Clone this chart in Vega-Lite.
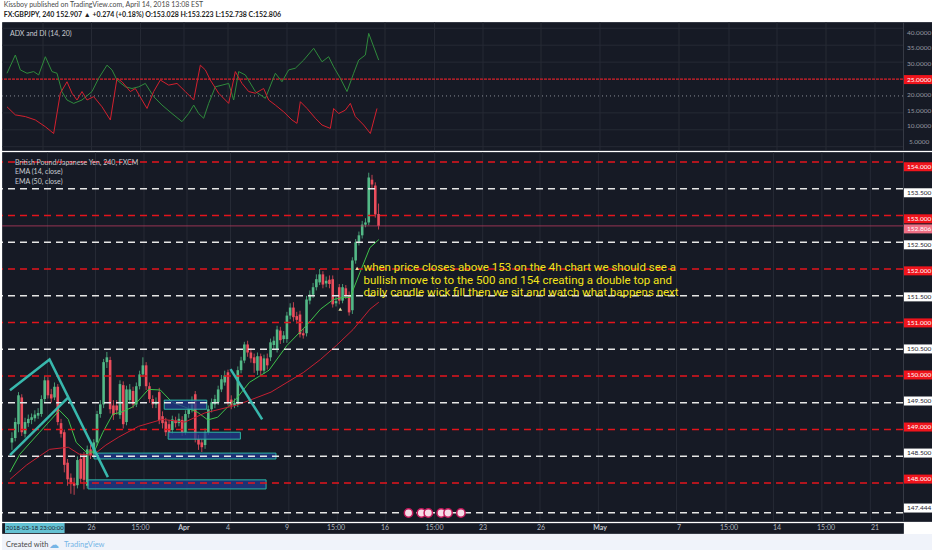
{
  "$schema": "https://vega.github.io/schema/vega-lite/v6.json",
  "background": "#ffffff",
  "padding": {"left": 0, "right": 0, "top": 1, "bottom": 0},
  "title": {
    "text": "Kissboy published on TradingView.com, April 14, 2018 13:08 EST",
    "subtitle": "FX:GBPJPY, 240  152.907 ▲ +0.274 (+0.18%)  O:153.028  H:153.223  L:152.738  C:152.806",
    "anchor": "start",
    "dx": 3,
    "font": "Lato",
    "fontSize": 7,
    "fontWeight": "normal",
    "color": "#4a4a4a",
    "subtitleFont": "Lato",
    "subtitleFontSize": 7,
    "subtitleFontWeight": "bold",
    "subtitleColor": "#222222",
    "subtitlePadding": 3,
    "offset": 3
  },
  "config": {
    "view": {"fill": "#161a25", "stroke": "#363a45"},
    "concat": {"spacing": 0}
  },
  "datasets": {
    "candles": [
      {"i":0,"o":148.76,"h":148.95,"l":148.62,"c":148.84},
      {"i":1,"o":148.84,"h":149.22,"l":148.78,"c":149.14},
      {"i":2,"o":149.10,"h":149.70,"l":148.95,"c":149.64},
      {"i":3,"o":149.60,"h":149.66,"l":148.88,"c":148.95},
      {"i":4,"o":148.92,"h":149.22,"l":148.85,"c":149.14},
      {"i":5,"o":149.12,"h":149.28,"l":149.05,"c":149.20},
      {"i":6,"o":149.18,"h":149.30,"l":149.10,"c":149.23},
      {"i":7,"o":149.21,"h":149.36,"l":149.15,"c":149.28},
      {"i":8,"o":149.26,"h":149.40,"l":149.20,"c":149.31},
      {"i":9,"o":149.29,"h":149.64,"l":149.24,"c":149.57},
      {"i":10,"o":149.57,"h":150.00,"l":149.50,"c":149.92},
      {"i":11,"o":149.92,"h":149.98,"l":149.58,"c":149.64},
      {"i":12,"o":149.66,"h":149.76,"l":149.50,"c":149.58},
      {"i":13,"o":149.60,"h":149.88,"l":149.55,"c":149.80},
      {"i":14,"o":149.80,"h":149.85,"l":149.08,"c":149.14},
      {"i":15,"o":149.12,"h":149.20,"l":148.85,"c":148.92},
      {"i":16,"o":148.95,"h":149.00,"l":148.20,"c":148.34},
      {"i":17,"o":148.38,"h":148.45,"l":147.95,"c":148.07},
      {"i":18,"o":148.10,"h":148.18,"l":147.80,"c":147.98},
      {"i":19,"o":148.00,"h":148.10,"l":147.78,"c":147.95},
      {"i":20,"o":147.96,"h":148.50,"l":147.90,"c":148.43},
      {"i":21,"o":148.45,"h":148.55,"l":148.00,"c":148.08},
      {"i":22,"o":148.50,"h":148.58,"l":147.88,"c":148.06},
      {"i":23,"o":147.95,"h":148.70,"l":147.90,"c":148.63},
      {"i":24,"o":148.63,"h":148.72,"l":148.45,"c":148.52},
      {"i":25,"o":148.55,"h":148.82,"l":148.48,"c":148.76},
      {"i":26,"o":148.76,"h":149.35,"l":148.70,"c":149.29},
      {"i":27,"o":149.29,"h":149.55,"l":149.22,"c":149.47},
      {"i":28,"o":149.47,"h":150.32,"l":149.40,"c":150.26},
      {"i":29,"o":150.26,"h":150.45,"l":150.15,"c":150.35},
      {"i":30,"o":150.30,"h":150.36,"l":149.30,"c":149.38},
      {"i":31,"o":149.45,"h":149.55,"l":149.18,"c":149.27},
      {"i":32,"o":149.45,"h":149.55,"l":149.28,"c":149.36},
      {"i":33,"o":149.27,"h":149.92,"l":149.20,"c":149.85},
      {"i":34,"o":149.83,"h":149.90,"l":149.02,"c":149.10},
      {"i":35,"o":149.14,"h":149.82,"l":149.08,"c":149.75},
      {"i":36,"o":149.55,"h":149.85,"l":149.48,"c":149.75},
      {"i":37,"o":149.72,"h":149.80,"l":149.40,"c":149.47},
      {"i":38,"o":149.47,"h":149.88,"l":149.42,"c":149.81},
      {"i":39,"o":149.81,"h":150.10,"l":149.75,"c":150.03},
      {"i":40,"o":150.03,"h":150.35,"l":149.98,"c":150.20},
      {"i":41,"o":150.20,"h":150.26,"l":149.74,"c":149.81},
      {"i":42,"o":149.81,"h":149.88,"l":149.50,"c":149.57},
      {"i":43,"o":149.57,"h":149.64,"l":149.40,"c":149.47},
      {"i":44,"o":149.47,"h":149.60,"l":149.40,"c":149.52},
      {"i":45,"o":149.70,"h":149.78,"l":149.10,"c":149.18},
      {"i":46,"o":149.25,"h":149.34,"l":149.02,"c":149.12},
      {"i":47,"o":149.15,"h":149.22,"l":148.88,"c":148.95},
      {"i":48,"o":149.10,"h":149.18,"l":148.86,"c":148.95},
      {"i":49,"o":148.99,"h":149.26,"l":148.92,"c":149.19},
      {"i":50,"o":149.17,"h":149.24,"l":149.04,"c":149.12},
      {"i":51,"o":149.12,"h":149.30,"l":149.06,"c":149.20},
      {"i":52,"o":149.18,"h":149.25,"l":148.88,"c":148.95},
      {"i":53,"o":148.95,"h":149.36,"l":148.90,"c":149.29},
      {"i":54,"o":149.29,"h":149.45,"l":149.22,"c":149.38},
      {"i":55,"o":149.38,"h":149.62,"l":149.32,"c":149.47},
      {"i":56,"o":149.66,"h":149.72,"l":148.76,"c":148.82},
      {"i":57,"o":148.82,"h":148.90,"l":148.62,"c":148.72},
      {"i":58,"o":148.76,"h":148.82,"l":148.58,"c":148.67},
      {"i":59,"o":148.71,"h":149.02,"l":148.64,"c":148.95},
      {"i":60,"o":148.95,"h":149.45,"l":148.90,"c":149.38},
      {"i":61,"o":149.38,"h":149.58,"l":149.32,"c":149.51},
      {"i":62,"o":149.47,"h":149.65,"l":149.40,"c":149.57},
      {"i":63,"o":149.51,"h":149.82,"l":149.46,"c":149.75},
      {"i":64,"o":149.75,"h":150.02,"l":149.70,"c":149.94},
      {"i":65,"o":149.88,"h":150.10,"l":149.82,"c":150.01},
      {"i":66,"o":150.07,"h":150.12,"l":149.45,"c":149.51},
      {"i":67,"o":149.56,"h":149.64,"l":149.38,"c":149.45},
      {"i":68,"o":149.45,"h":149.58,"l":149.40,"c":149.50},
      {"i":69,"o":149.47,"h":150.18,"l":149.42,"c":150.11},
      {"i":70,"o":150.11,"h":150.36,"l":150.05,"c":150.29},
      {"i":71,"o":150.29,"h":150.64,"l":150.24,"c":150.59},
      {"i":72,"o":150.59,"h":150.66,"l":150.36,"c":150.44},
      {"i":73,"o":150.44,"h":150.52,"l":150.25,"c":150.33},
      {"i":74,"o":150.35,"h":150.42,"l":150.06,"c":150.24},
      {"i":75,"o":150.10,"h":150.44,"l":150.02,"c":150.37},
      {"i":76,"o":150.37,"h":150.42,"l":150.00,"c":150.10},
      {"i":77,"o":150.10,"h":150.40,"l":150.04,"c":150.33},
      {"i":78,"o":150.33,"h":150.42,"l":150.12,"c":150.20},
      {"i":79,"o":150.35,"h":150.70,"l":150.28,"c":150.63},
      {"i":80,"o":150.58,"h":150.74,"l":150.50,"c":150.66},
      {"i":81,"o":150.50,"h":150.94,"l":150.44,"c":150.87},
      {"i":82,"o":150.85,"h":150.92,"l":150.60,"c":150.67},
      {"i":83,"o":150.69,"h":150.84,"l":150.62,"c":150.76},
      {"i":84,"o":150.69,"h":151.20,"l":150.62,"c":151.13},
      {"i":85,"o":151.13,"h":151.36,"l":151.06,"c":151.28},
      {"i":86,"o":151.28,"h":151.38,"l":151.02,"c":151.10},
      {"i":87,"o":151.12,"h":151.20,"l":150.98,"c":151.05},
      {"i":88,"o":151.15,"h":151.22,"l":150.72,"c":150.78},
      {"i":89,"o":150.80,"h":150.88,"l":150.70,"c":150.76},
      {"i":90,"o":150.80,"h":151.50,"l":150.74,"c":151.43},
      {"i":91,"o":151.41,"h":151.60,"l":151.34,"c":151.52},
      {"i":92,"o":151.52,"h":151.74,"l":151.46,"c":151.66},
      {"i":93,"o":151.66,"h":151.90,"l":151.60,"c":151.81},
      {"i":94,"o":151.75,"h":152.00,"l":151.70,"c":151.90},
      {"i":95,"o":151.90,"h":151.96,"l":151.64,"c":151.71},
      {"i":96,"o":151.73,"h":151.86,"l":151.66,"c":151.78},
      {"i":97,"o":151.80,"h":151.88,"l":151.64,"c":151.72},
      {"i":98,"o":151.81,"h":151.88,"l":151.28,"c":151.34},
      {"i":99,"o":151.36,"h":151.48,"l":151.30,"c":151.40},
      {"i":100,"o":151.66,"h":151.72,"l":151.34,"c":151.41},
      {"i":101,"o":151.41,"h":151.72,"l":151.36,"c":151.66},
      {"i":102,"o":151.64,"h":151.70,"l":151.44,"c":151.50},
      {"i":103,"o":151.51,"h":151.58,"l":151.13,"c":151.19},
      {"i":104,"o":151.23,"h":152.22,"l":151.16,"c":152.16},
      {"i":105,"o":152.16,"h":152.56,"l":152.10,"c":152.50},
      {"i":106,"o":152.50,"h":152.70,"l":152.44,"c":152.63},
      {"i":107,"o":152.63,"h":152.90,"l":152.57,"c":152.83},
      {"i":108,"o":152.83,"h":152.95,"l":152.78,"c":152.87},
      {"i":109,"o":152.87,"h":153.80,"l":152.82,"c":153.71},
      {"i":110,"o":153.67,"h":153.76,"l":153.50,"c":153.58},
      {"i":111,"o":153.56,"h":153.62,"l":152.96,"c":153.02},
      {"i":112,"o":153.028,"h":153.223,"l":152.738,"c":152.806}
    ],
    "ema": [
      {"s":"14","i":-0.6,"p":148.205},{"s":"14","i":2.42,"p":148.54},{"s":"14","i":8.46,"p":148.95},
      {"s":"14","i":14.5,"p":149.36},{"s":"14","i":17.22,"p":149.19},{"s":"14","i":19.64,"p":148.76},
      {"s":"14","i":22.66,"p":148.58},{"s":"14","i":25.08,"p":148.58},{"s":"14","i":27.79,"p":148.95},
      {"s":"14","i":30.82,"p":149.29},{"s":"14","i":33.23,"p":149.32},{"s":"14","i":36.86,"p":149.42},
      {"s":"14","i":41.69,"p":149.75},{"s":"14","i":45.32,"p":149.74},{"s":"14","i":48.94,"p":149.51},
      {"s":"14","i":52.87,"p":149.42},{"s":"14","i":56.8,"p":149.32},{"s":"14","i":59.82,"p":149.18},
      {"s":"14","i":62.84,"p":149.23},{"s":"14","i":65.86,"p":149.42},{"s":"14","i":68.88,"p":149.6},
      {"s":"14","i":72.51,"p":149.88},{"s":"14","i":78.55,"p":150.11},{"s":"14","i":83.99,"p":150.57},
      {"s":"14","i":90.03,"p":150.95},{"s":"14","i":94.26,"p":151.25},{"s":"14","i":98.19,"p":151.43},
      {"s":"14","i":101.21,"p":151.47},{"s":"14","i":103.32,"p":151.47},{"s":"14","i":106.34,"p":151.94},
      {"s":"14","i":109.37,"p":152.4},{"s":"14","i":112.08,"p":152.55},
      {"s":"50","i":-0.6,"p":148.07},{"s":"50","i":4.53,"p":148.34},{"s":"50","i":11.48,"p":148.63},
      {"s":"50","i":17.22,"p":148.67},{"s":"50","i":20.54,"p":148.54},{"s":"50","i":24.77,"p":148.52},
      {"s":"50","i":28.7,"p":148.71},{"s":"50","i":32.63,"p":148.86},{"s":"50","i":38.67,"p":149.06},
      {"s":"50","i":45.92,"p":149.19},{"s":"50","i":52.87,"p":149.14},{"s":"50","i":58.91,"p":149.31},
      {"s":"50","i":68.88,"p":149.46},{"s":"50","i":79.15,"p":149.7},{"s":"50","i":89.12,"p":150.07},
      {"s":"50","i":94.26,"p":150.31},{"s":"50","i":99.09,"p":150.57},{"s":"50","i":104.23,"p":150.87},
      {"s":"50","i":109.37,"p":151.25},{"s":"50","i":112.08,"p":151.38}
    ],
    "adx": [
      {"s":"+DI","i":0,"v":26.7},{"s":"+DI","i":2.52,"v":32.1},{"s":"+DI","i":4.03,"v":27.7},{"s":"+DI","i":6.04,"v":26.7},
      {"s":"+DI","i":8.06,"v":27.2},{"s":"+DI","i":9.57,"v":26.2},{"s":"+DI","i":11.58,"v":31.6},{"s":"+DI","i":13.6,"v":27.2},
      {"s":"+DI","i":15.11,"v":26.7},{"s":"+DI","i":16.62,"v":21.2},{"s":"+DI","i":18.13,"v":18.8},{"s":"+DI","i":20.14,"v":17.8},
      {"s":"+DI","i":22.66,"v":18.8},{"s":"+DI","i":25.68,"v":21.3},{"s":"+DI","i":27.69,"v":25.2},{"s":"+DI","i":30.21,"v":29.1},
      {"s":"+DI","i":31.72,"v":27.7},{"s":"+DI","i":33.23,"v":24.7},{"s":"+DI","i":35.75,"v":22.7},{"s":"+DI","i":37.76,"v":22.2},
      {"s":"+DI","i":39.78,"v":22.7},{"s":"+DI","i":41.79,"v":23.7},{"s":"+DI","i":44.31,"v":19.8},{"s":"+DI","i":46.83,"v":17.3},
      {"s":"+DI","i":49.85,"v":14.8},{"s":"+DI","i":52.87,"v":12.4},{"s":"+DI","i":54.88,"v":14.8},{"s":"+DI","i":56.4,"v":17.3},
      {"s":"+DI","i":57.91,"v":14.8},{"s":"+DI","i":59.42,"v":13.4},{"s":"+DI","i":60.93,"v":17.8},{"s":"+DI","i":62.94,"v":22.7},
      {"s":"+DI","i":64.96,"v":23.2},{"s":"+DI","i":66.97,"v":23.7},{"s":"+DI","i":68.48,"v":18.8},{"s":"+DI","i":69.99,"v":27.2},
      {"s":"+DI","i":72.01,"v":26.2},{"s":"+DI","i":75.03,"v":21.3},{"s":"+DI","i":78.05,"v":19.3},{"s":"+DI","i":81.07,"v":26.7},
      {"s":"+DI","i":83.08,"v":24.2},{"s":"+DI","i":85.1,"v":27.7},{"s":"+DI","i":87.11,"v":28.2},{"s":"+DI","i":89.63,"v":30.6},
      {"s":"+DI","i":92.65,"v":34.1},{"s":"+DI","i":95.17,"v":30.1},{"s":"+DI","i":97.18,"v":31.6},{"s":"+DI","i":98.69,"v":28.6},
      {"s":"+DI","i":100.71,"v":25.2},{"s":"+DI","i":102.72,"v":21.3},{"s":"+DI","i":104.73,"v":26.7},{"s":"+DI","i":106.25,"v":30.6},
      {"s":"+DI","i":108.26,"v":32.1},{"s":"+DI","i":109.27,"v":38.5},{"s":"+DI","i":112.29,"v":30.6},
      {"s":"-DI","i":0,"v":16.8},{"s":"-DI","i":2.52,"v":14.4},{"s":"-DI","i":5.54,"v":13.9},{"s":"-DI","i":8.56,"v":12.9},
      {"s":"-DI","i":11.58,"v":10.9},{"s":"-DI","i":14.1,"v":8.9},{"s":"-DI","i":16.11,"v":20.8},{"s":"-DI","i":18.13,"v":24.2},
      {"s":"-DI","i":19.64,"v":20.8},{"s":"-DI","i":21.15,"v":18.8},{"s":"-DI","i":22.66,"v":21.3},{"s":"-DI","i":24.17,"v":18.8},
      {"s":"-DI","i":26.18,"v":19.8},{"s":"-DI","i":28.7,"v":16.8},{"s":"-DI","i":31.22,"v":12.9},{"s":"-DI","i":33.23,"v":25.2},
      {"s":"-DI","i":34.74,"v":24.2},{"s":"-DI","i":37.26,"v":21.3},{"s":"-DI","i":38.77,"v":22.2},{"s":"-DI","i":40.79,"v":18.8},
      {"s":"-DI","i":42.3,"v":16.3},{"s":"-DI","i":44.31,"v":21.3},{"s":"-DI","i":46.32,"v":24.7},{"s":"-DI","i":48.84,"v":23.2},
      {"s":"-DI","i":51.36,"v":23.7},{"s":"-DI","i":53.88,"v":21.3},{"s":"-DI","i":56.4,"v":18.8},{"s":"-DI","i":58.41,"v":29.1},
      {"s":"-DI","i":59.92,"v":27.7},{"s":"-DI","i":61.43,"v":24.7},{"s":"-DI","i":63.95,"v":20.8},{"s":"-DI","i":66.97,"v":17.8},
      {"s":"-DI","i":68.98,"v":27.2},{"s":"-DI","i":71.0,"v":23.7},{"s":"-DI","i":73.01,"v":21.3},{"s":"-DI","i":75.03,"v":20.8},
      {"s":"-DI","i":77.54,"v":22.2},{"s":"-DI","i":79.05,"v":18.8},{"s":"-DI","i":81.07,"v":17.3},{"s":"-DI","i":83.59,"v":15.3},
      {"s":"-DI","i":86.1,"v":12.9},{"s":"-DI","i":87.61,"v":11.9},{"s":"-DI","i":88.62,"v":18.3},{"s":"-DI","i":90.64,"v":16.3},
      {"s":"-DI","i":93.16,"v":13.4},{"s":"-DI","i":95.17,"v":11.4},{"s":"-DI","i":97.69,"v":10.4},{"s":"-DI","i":98.69,"v":16.3},
      {"s":"-DI","i":100.2,"v":14.8},{"s":"-DI","i":102.22,"v":15.8},{"s":"-DI","i":103.73,"v":17.8},{"s":"-DI","i":105.24,"v":13.9},
      {"s":"-DI","i":107.76,"v":11.4},{"s":"-DI","i":109.77,"v":8.9},{"s":"-DI","i":111.78,"v":16.3}
    ],
    "levels": [
      {"p":154,"k":"r"},{"p":153.5,"k":"w"},{"p":153,"k":"r"},{"p":152.5,"k":"w"},{"p":152,"k":"r"},
      {"p":151.5,"k":"w"},{"p":151,"k":"r"},{"p":150.5,"k":"w"},{"p":150,"k":"r"},{"p":149.5,"k":"w"},
      {"p":149,"k":"r"},{"p":148.5,"k":"w"},{"p":148,"k":"r"},{"p":147.444,"k":"w"}
    ],
    "plabels": [
      {"p":154,"t":"154.000","k":"r"},{"p":153.5,"t":"153.500","k":"w"},{"p":153,"t":"153.000","k":"r"},
      {"p":152.806,"t":"152.806","k":"c"},{"p":152.5,"t":"152.500","k":"w"},{"p":152,"t":"152.000","k":"r"},
      {"p":151.5,"t":"151.500","k":"w"},{"p":151,"t":"151.000","k":"r"},{"p":150.5,"t":"150.500","k":"w"},
      {"p":150,"t":"150.000","k":"r"},{"p":149.5,"t":"149.500","k":"w"},{"p":149,"t":"149.000","k":"r"},
      {"p":148.5,"t":"148.500","k":"w"},{"p":148,"t":"148.000","k":"r"},{"p":147.444,"t":"147.444","k":"w"}
    ],
    "alabels": [
      {"v":40,"t":"40.0000","k":"g"},{"v":35,"t":"35.0000","k":"g"},{"v":30,"t":"30.0000","k":"g"},
      {"v":25,"t":"25.0000","k":"r"},{"v":20,"t":"20.0000","k":"g"},{"v":15,"t":"15.0000","k":"g"},
      {"v":10,"t":"10.0000","k":"g"},{"v":5,"t":"5.0000","k":"g"}
    ],
    "grid": [
      {"i":10.88,"lab":""},{"i":25.53,"lab":"26"},{"i":40.33,"lab":"15:00"},{"i":53.47,"lab":"Apr"},
      {"i":66.77,"lab":"4"},{"i":84.59,"lab":"9"},{"i":99.4,"lab":"15:00"},{"i":114.2,"lab":"16"},
      {"i":129.15,"lab":"15:00"},{"i":143.81,"lab":"23"},{"i":161.33,"lab":"26"},{"i":179.15,"lab":"May"},
      {"i":203.02,"lab":"7"},{"i":218.13,"lab":"15:00"},{"i":232.63,"lab":"14"},{"i":247.43,"lab":"15:00"},
      {"i":262.24,"lab":"21"}
    ],
    "boxes": [
      {"i1":46.53,"i2":59.52,"p1":149.38,"p2":149.55},
      {"i1":47.73,"i2":69.79,"p1":148.82,"p2":148.95},
      {"i1":25.08,"i2":80.66,"p1":148.45,"p2":148.56},
      {"i1":23.26,"i2":77.64,"p1":147.89,"p2":148.06}
    ],
    "trend": [
      {"g":1,"i":-0.6,"p":149.735},{"g":1,"i":11.48,"p":150.31},{"g":1,"i":29.31,"p":148.11},
      {"g":2,"i":-0.6,"p":148.52},{"g":2,"i":17.22,"p":149.6},
      {"g":3,"i":66.77,"p":150.13},{"g":3,"i":76.44,"p":149.19}
    ],
    "marks": [{"i":100.3,"p":151.25},{"i":105.44,"p":152.01}],
    "icons": [
      {"i":121.15,"p":147.44},{"i":125.08,"p":147.44},{"i":127.19,"p":147.44},
      {"i":131.12,"p":147.44},{"i":133.23,"p":147.44},{"i":137.16,"p":147.44}
    ],
    "note": [
      {"i":107.4,"p":152.13,"t":"when price closes above 153 on the 4h chart we should see a\nbullish move to to the 500 and 154 creating a double top and\ndaily candle wick fill then we sit and watch what happens next"}
    ],
    "legend": [
      {"p":153.99,"t":"British Pound/Japanese Yen, 240, FXCM"},
      {"p":153.82,"t":"EMA (14, close)"},
      {"p":153.63,"t":"EMA (50, close)"}
    ]
  },
  "spacing": 0,
  "vconcat": [
    {
      "spacing": 0,
      "bounds": "flush",
      "hconcat": [
        {
          "width": 901,
          "height": 128,
          "layer": [
            {
              "data": {"name": "grid"},
              "mark": {"type": "rule", "color": "#262a35", "strokeWidth": 1},
              "encoding": {"x": {"field": "i", "type": "quantitative", "scale": {"domain": [-1.51, 270.69], "nice": false, "zero": false}, "axis": null}}
            },
            {
              "data": {"values": [{"v": 5}, {"v": 10}, {"v": 15}, {"v": 30}, {"v": 35}, {"v": 40}]},
              "mark": {"type": "rule", "color": "#262a35", "strokeWidth": 1},
              "encoding": {"y": {"field": "v", "type": "quantitative", "scale": {"domain": [4.02, 41.86], "nice": false, "zero": false}, "axis": null}}
            },
            {
              "data": {"values": [{"v": 20}]},
              "mark": {"type": "rule", "color": "#8a8d96", "strokeDash": [1, 3], "strokeWidth": 1},
              "encoding": {"y": {"field": "v", "type": "quantitative", "scale": {"domain": [4.02, 41.86], "nice": false, "zero": false}, "axis": null}}
            },
            {
              "data": {"values": [{"v": 25}]},
              "mark": {"type": "rule", "color": "#d8202a", "strokeDash": [3, 1], "strokeWidth": 1.2},
              "encoding": {"y": {"field": "v", "type": "quantitative", "scale": {"domain": [4.02, 41.86], "nice": false, "zero": false}, "axis": null}}
            },
            {
              "data": {"name": "adx"},
              "transform": [{"filter": "datum.s == '+DI'"}],
              "mark": {"type": "line", "strokeWidth": 1, "color": "#2f8a3c"},
              "encoding": {
                "x": {"field": "i", "type": "quantitative", "scale": {"domain": [-1.51, 270.69], "nice": false, "zero": false}, "axis": null},
                "y": {"field": "v", "type": "quantitative", "scale": {"domain": [4.02, 41.86], "nice": false, "zero": false}, "axis": null}
              }
            },
            {
              "data": {"name": "adx"},
              "transform": [{"filter": "datum.s == '-DI'"}],
              "mark": {"type": "line", "strokeWidth": 1, "color": "#d3202e"},
              "encoding": {
                "x": {"field": "i", "type": "quantitative", "scale": {"domain": [-1.51, 270.69], "nice": false, "zero": false}, "axis": null},
                "y": {"field": "v", "type": "quantitative", "scale": {"domain": [4.02, 41.86], "nice": false, "zero": false}, "axis": null}
              }
            },
            {
              "data": {"values": [{"t": "ADX and DI (14, 20)"}]},
              "mark": {"type": "text", "align": "left", "baseline": "middle", "font": "Lato", "fontSize": 7, "color": "#c8cbd2"},
              "encoding": {
                "x": {"datum": 0.9, "type": "quantitative", "scale": {"domain": [-1.51, 270.69], "nice": false, "zero": false}, "axis": null},
                "y": {"datum": 38.3, "type": "quantitative", "scale": {"domain": [4.02, 41.86], "nice": false, "zero": false}, "axis": null},
                "text": {"field": "t"}
              }
            }
          ]
        },
        {
          "width": 31,
          "height": 128,
          "data": {"name": "alabels"},
          "layer": [
            {
              "transform": [{"filter": "datum.k == 'r'"}],
              "mark": {"type": "bar", "orient": "horizontal", "size": 9, "color": "#f0141c"},
              "encoding": {
                "x": {"datum": 0.03, "type": "quantitative", "scale": {"domain": [0, 1]}, "axis": null},
                "x2": {"datum": 1},
                "y": {"field": "v", "type": "quantitative", "scale": {"domain": [4.02, 41.86], "nice": false, "zero": false}, "axis": null}
              }
            },
            {
              "mark": {"type": "text", "font": "Lato", "fontSize": 6.5, "align": "center", "baseline": "middle"},
              "encoding": {
                "x": {"datum": 0.52, "type": "quantitative", "scale": {"domain": [0, 1]}, "axis": null},
                "y": {"field": "v", "type": "quantitative", "scale": {"domain": [4.02, 41.86], "nice": false, "zero": false}, "axis": null},
                "text": {"field": "t"},
                "color": {"condition": {"test": "datum.k == 'r'", "value": "#ffffff"}, "value": "#9598a1"}
              }
            }
          ]
        }
      ]
    },
    {
      "spacing": 0,
      "bounds": "flush",
      "hconcat": [
        {
          "width": 901,
          "height": 369,
          "layer": [
            {
              "data": {"name": "grid"},
              "mark": {"type": "rule", "color": "#262a35", "strokeWidth": 1},
              "encoding": {"x": {"field": "i", "type": "quantitative", "scale": {"domain": [-1.51, 270.69], "nice": false, "zero": false}, "axis": null}}
            },
            {
              "data": {"name": "candles"},
              "mark": {"type": "rule", "strokeWidth": 0.8},
              "encoding": {
                "x": {"field": "i", "type": "quantitative", "scale": {"domain": [-1.51, 270.69], "nice": false, "zero": false}, "axis": null},
                "y": {"field": "l", "type": "quantitative", "scale": {"domain": [147.291, 154.187], "nice": false, "zero": false}, "axis": null},
                "y2": {"field": "h"},
                "color": {"condition": {"test": "datum.c >= datum.o", "value": "#53b987"}, "value": "#eb4d5c"}
              }
            },
            {
              "data": {"name": "candles"},
              "mark": {"type": "bar", "size": 2.6},
              "encoding": {
                "x": {"field": "i", "type": "quantitative", "scale": {"domain": [-1.51, 270.69], "nice": false, "zero": false}, "axis": null},
                "y": {"field": "o", "type": "quantitative", "scale": {"domain": [147.291, 154.187], "nice": false, "zero": false}, "axis": null},
                "y2": {"field": "c"},
                "color": {"condition": {"test": "datum.c >= datum.o", "value": "#53b987"}, "value": "#eb4d5c"}
              }
            },
            {
              "data": {"name": "ema"},
              "transform": [{"filter": "datum.s == '14'"}],
              "mark": {"type": "line", "strokeWidth": 1, "color": "#3ec24a"},
              "encoding": {
                "x": {"field": "i", "type": "quantitative", "scale": {"domain": [-1.51, 270.69], "nice": false, "zero": false}, "axis": null},
                "y": {"field": "p", "type": "quantitative", "scale": {"domain": [147.291, 154.187], "nice": false, "zero": false}, "axis": null}
              }
            },
            {
              "data": {"name": "ema"},
              "transform": [{"filter": "datum.s == '50'"}],
              "mark": {"type": "line", "strokeWidth": 1, "color": "#c62032"},
              "encoding": {
                "x": {"field": "i", "type": "quantitative", "scale": {"domain": [-1.51, 270.69], "nice": false, "zero": false}, "axis": null},
                "y": {"field": "p", "type": "quantitative", "scale": {"domain": [147.291, 154.187], "nice": false, "zero": false}, "axis": null}
              }
            },
            {
              "data": {"name": "boxes"},
              "mark": {"type": "rect", "fill": "#22398f", "fillOpacity": 0.75, "stroke": "#2bb5a3", "strokeWidth": 1},
              "encoding": {
                "x": {"field": "i1", "type": "quantitative", "scale": {"domain": [-1.51, 270.69], "nice": false, "zero": false}, "axis": null},
                "x2": {"field": "i2"},
                "y": {"field": "p1", "type": "quantitative", "scale": {"domain": [147.291, 154.187], "nice": false, "zero": false}, "axis": null},
                "y2": {"field": "p2"}
              }
            },
            {
              "data": {"name": "levels"},
              "mark": {"type": "rule", "strokeWidth": 1.5, "strokeDash": [7, 5]},
              "encoding": {
                "y": {"field": "p", "type": "quantitative", "scale": {"domain": [147.291, 154.187], "nice": false, "zero": false}, "axis": null},
                "color": {"condition": {"test": "datum.k == 'r'", "value": "#e3141c"}, "value": "#e6e6e6"}
              }
            },
            {
              "data": {"values": [{"p": 152.806}]},
              "mark": {"type": "rule", "color": "#b83b5e", "strokeWidth": 0.8},
              "encoding": {"y": {"field": "p", "type": "quantitative", "scale": {"domain": [147.291, 154.187], "nice": false, "zero": false}, "axis": null}}
            },
            {
              "data": {"name": "trend"},
              "mark": {"type": "line", "color": "#38b8ad", "strokeWidth": 2.5},
              "encoding": {
                "x": {"field": "i", "type": "quantitative", "scale": {"domain": [-1.51, 270.69], "nice": false, "zero": false}, "axis": null},
                "y": {"field": "p", "type": "quantitative", "scale": {"domain": [147.291, 154.187], "nice": false, "zero": false}, "axis": null},
                "detail": {"field": "g"}
              }
            },
            {
              "data": {"name": "marks"},
              "mark": {"type": "point", "shape": "triangle-up", "filled": true, "color": "#e3dca0", "size": 14, "opacity": 1},
              "encoding": {
                "x": {"field": "i", "type": "quantitative", "scale": {"domain": [-1.51, 270.69], "nice": false, "zero": false}, "axis": null},
                "y": {"field": "p", "type": "quantitative", "scale": {"domain": [147.291, 154.187], "nice": false, "zero": false}, "axis": null}
              }
            },
            {
              "data": {"name": "icons"},
              "mark": {"type": "point", "shape": "circle", "filled": true, "fill": "#f4dbe6", "stroke": "#c2185b", "strokeWidth": 1.5, "size": 70, "opacity": 1},
              "encoding": {
                "x": {"field": "i", "type": "quantitative", "scale": {"domain": [-1.51, 270.69], "nice": false, "zero": false}, "axis": null},
                "y": {"field": "p", "type": "quantitative", "scale": {"domain": [147.291, 154.187], "nice": false, "zero": false}, "axis": null}
              }
            },
            {
              "data": {"name": "note"},
              "mark": {"type": "text", "align": "left", "baseline": "top", "font": "Roboto", "fontSize": 11.5, "lineHeight": 12.5, "lineBreak": "\n", "color": "#f2e31b"},
              "encoding": {
                "x": {"field": "i", "type": "quantitative", "scale": {"domain": [-1.51, 270.69], "nice": false, "zero": false}, "axis": null},
                "y": {"field": "p", "type": "quantitative", "scale": {"domain": [147.291, 154.187], "nice": false, "zero": false}, "axis": null},
                "text": {"field": "t"}
              }
            },
            {
              "data": {"name": "legend"},
              "mark": {"type": "text", "align": "left", "baseline": "middle", "font": "Lato", "fontSize": 7, "color": "#c8cbd2"},
              "encoding": {
                "x": {"datum": 0.9, "type": "quantitative", "scale": {"domain": [-1.51, 270.69], "nice": false, "zero": false}, "axis": null},
                "y": {"field": "p", "type": "quantitative", "scale": {"domain": [147.291, 154.187], "nice": false, "zero": false}, "axis": null},
                "text": {"field": "t"}
              }
            }
          ]
        },
        {
          "width": 31,
          "height": 369,
          "data": {"name": "plabels"},
          "layer": [
            {
              "mark": {"type": "bar", "orient": "horizontal", "size": 9},
              "encoding": {
                "x": {"datum": 0.03, "type": "quantitative", "scale": {"domain": [0, 1]}, "axis": null},
                "x2": {"datum": 1},
                "y": {"field": "p", "type": "quantitative", "scale": {"domain": [147.291, 154.187], "nice": false, "zero": false}, "axis": null},
                "color": {"condition": [{"test": "datum.k == 'r'", "value": "#f0141c"}, {"test": "datum.k == 'c'", "value": "#ef7085"}], "value": "#ffffff"}
              }
            },
            {
              "mark": {"type": "text", "font": "Lato", "fontSize": 6.5, "align": "center", "baseline": "middle"},
              "encoding": {
                "x": {"datum": 0.52, "type": "quantitative", "scale": {"domain": [0, 1]}, "axis": null},
                "y": {"field": "p", "type": "quantitative", "scale": {"domain": [147.291, 154.187], "nice": false, "zero": false}, "axis": null},
                "text": {"field": "t"},
                "color": {"condition": {"test": "datum.k == 'w'", "value": "#1e222d"}, "value": "#ffffff"}
              }
            }
          ]
        }
      ]
    },
    {
      "spacing": 0,
      "bounds": "flush",
      "hconcat": [
        {
          "width": 901,
          "height": 10,
          "layer": [
            {
              "data": {"name": "grid"},
              "transform": [{"filter": "datum.lab != '' && datum.lab != 'Apr' && datum.lab != 'May'"}],
              "mark": {"type": "text", "font": "Lato", "fontSize": 7, "color": "#b2b5be", "baseline": "middle"},
              "encoding": {
                "x": {"field": "i", "type": "quantitative", "scale": {"domain": [-1.51, 270.69], "nice": false, "zero": false}, "axis": null},
                "y": {"datum": 0.5, "type": "quantitative", "scale": {"domain": [0, 1]}, "axis": null},
                "text": {"field": "lab"}
              }
            },
            {
              "data": {"name": "grid"},
              "transform": [{"filter": "datum.lab == 'Apr' || datum.lab == 'May'"}],
              "mark": {"type": "text", "font": "Lato", "fontSize": 7, "fontWeight": "bold", "color": "#c8cbd2", "baseline": "middle"},
              "encoding": {
                "x": {"field": "i", "type": "quantitative", "scale": {"domain": [-1.51, 270.69], "nice": false, "zero": false}, "axis": null},
                "y": {"datum": 0.5, "type": "quantitative", "scale": {"domain": [0, 1]}, "axis": null},
                "text": {"field": "lab"}
              }
            },
            {
              "data": {"values": [{"t": "2018-03-18 23:00:00"}]},
              "mark": {"type": "rect", "color": "#63c1d3"},
              "encoding": {
                "x": {"datum": -0.6, "type": "quantitative", "scale": {"domain": [-1.51, 270.69], "nice": false, "zero": false}, "axis": null},
                "x2": {"datum": 17.4},
                "y": {"datum": 0, "type": "quantitative", "scale": {"domain": [0, 1]}, "axis": null},
                "y2": {"datum": 1}
              }
            },
            {
              "data": {"values": [{"t": "2018-03-18 23:00:00"}]},
              "mark": {"type": "text", "font": "Lato", "fontSize": 6, "color": "#1e222d", "baseline": "middle"},
              "encoding": {
                "x": {"datum": 8.4, "type": "quantitative", "scale": {"domain": [-1.51, 270.69], "nice": false, "zero": false}, "axis": null},
                "y": {"datum": 0.5, "type": "quantitative", "scale": {"domain": [0, 1]}, "axis": null},
                "text": {"field": "t"}
              }
            }
          ]
        },
        {
          "width": 31,
          "height": 10,
          "data": {"values": [{}]},
          "mark": {"type": "text"},
          "encoding": {"text": {"value": ""}}
        }
      ]
    },
    {
      "width": 932,
      "height": 21,
      "view": {"fill": "#f0f3fa", "stroke": null},
      "data": {"values": [{"a": "Created with", "b": "☁", "c": "TradingView"}]},
      "layer": [
        {
          "mark": {"type": "text", "align": "left", "baseline": "middle", "font": "Lato", "fontSize": 7.5, "color": "#4a4a4a", "dx": 4},
          "encoding": {
            "x": {"datum": 0, "type": "quantitative", "scale": {"domain": [0, 1]}, "axis": null},
            "y": {"datum": 0.5, "type": "quantitative", "scale": {"domain": [0, 1]}, "axis": null},
            "text": {"field": "a"}
          }
        },
        {
          "mark": {"type": "text", "align": "left", "baseline": "middle", "font": "DejaVu Sans", "fontSize": 10, "color": "#76b5e6", "dx": 47},
          "encoding": {
            "x": {"datum": 0, "type": "quantitative", "scale": {"domain": [0, 1]}, "axis": null},
            "y": {"datum": 0.5, "type": "quantitative", "scale": {"domain": [0, 1]}, "axis": null},
            "text": {"field": "b"}
          }
        },
        {
          "mark": {"type": "text", "align": "left", "baseline": "middle", "font": "Lato", "fontSize": 7.5, "color": "#76b5e6", "dx": 62},
          "encoding": {
            "x": {"datum": 0, "type": "quantitative", "scale": {"domain": [0, 1]}, "axis": null},
            "y": {"datum": 0.5, "type": "quantitative", "scale": {"domain": [0, 1]}, "axis": null},
            "text": {"field": "c"}
          }
        }
      ]
    }
  ]
}
